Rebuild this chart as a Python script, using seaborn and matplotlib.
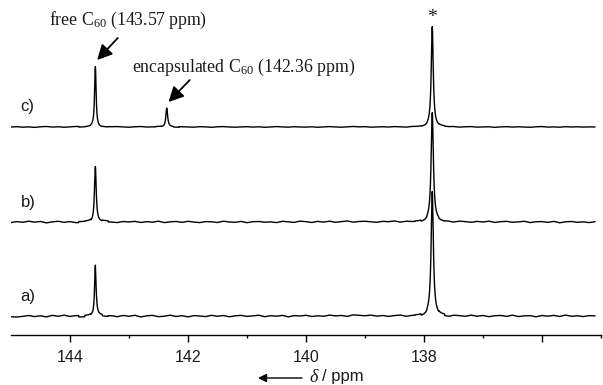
import numpy as np
import pandas as pd
import matplotlib
matplotlib.use("Agg")
import matplotlib.pyplot as plt
import seaborn as sns

# --- peak tables (ppm, height, full width at half height in ppm) ---
spectra = ["a)", "b)", "c)"]
peak_ppm = {
    "a)": [143.57, 137.86],
    "b)": [143.57, 137.86],
    "c)": [143.57, 142.36, 137.86],
}
peak_height = {
    "a)": [51, 124],
    "b)": [56, 109],
    "c)": [60, 19, 100],
}
peak_fwhm = {
    "a)": [0.030, 0.045],
    "b)": [0.034, 0.045],
    "c)": [0.030, 0.035, 0.040],
}

# --- baseline ripple, sampled every 0.1 ppm from 145.0 down to 135.1 ---
ripple_start, ripple_step = 145.0, 0.1
ripple = {
    "c)": [0.0, 0.3, -0.2, 0.1, -0.4, 0.2, 0.5, -0.1, 0.2, -0.3,
           0.1, 0.4, -0.2, 0.0, 0.3, -0.5, -0.2, 0.1, 0.3, 0.0,
           -0.3, 0.2, 0.4, -0.1, 0.0, 0.3, -0.2, 0.1, -0.4, 0.2,
           0.0, -0.2, 0.3, 0.1, -0.3, 0.2, 0.4, 0.0, -0.2, 0.1,
           0.3, -0.1, 0.2, -0.3, 0.0, 0.4, 0.1, -0.2, 0.3, 0.0,
           -0.1, 0.2, -0.3, 0.1, 0.4, 0.0, -0.2, 0.2, 0.5, 0.1,
           0.3, -0.2, 0.0, 0.2, -0.1, 0.3, 0.0, -0.3, 0.2, 0.1,
           -0.2, 0.3, 0.0, 0.4, -0.1, 0.2, -0.3, 0.1, 0.3, -0.2,
           0.0, 0.2, -0.4, 0.1, 0.3, -0.1, 0.2, 0.0, -0.3, 0.2,
           0.4, -0.1, 0.1, -0.2, 0.3, 0.0, 0.2, -0.1, 0.1, 0.0],
    "b)": [-0.6, 0.4, -0.3, 0.8, -0.2, 0.5, -0.9, 0.1, 0.7, -0.4,
           0.3, -0.8, 0.2, 0.6, -0.5, 0.1, 0.9, -0.3, -0.7, 0.4,
           0.0, 0.6, -0.5, 0.3, -0.2, 0.8, -0.6, 0.2, 0.5, -0.4,
           0.7, -0.1, -0.6, 0.4, 0.2, -0.5, 0.8, 0.0, -0.3, 0.6,
           -0.7, 0.3, 0.5, -0.2, 0.1, -0.6, 0.7, 0.2, -0.4, 0.9,
           0.3, -0.5, 0.6, -0.1, 0.8, -0.3, 0.4, 1.0, -0.2, 0.5,
           0.7, 0.1, -0.4, 0.6, 0.2, 0.9, -0.3, 0.5, 0.0, 0.4,
           -0.6, 0.3, 0.7, -0.2, 0.1, -0.5, 0.6, 0.2, -0.4, 0.5,
           -0.1, 0.8, -0.5, 0.3, 0.6, -0.3, 0.1, 0.7, -0.6, 0.2,
           0.4, -0.4, 0.6, -0.8, 0.2, 0.5, -0.3, 0.1, -0.6, 0.3],
    "a)": [-0.8, -1.0, -0.4, 0.5, -0.6, 0.2, -0.9, 0.6, -0.3, 0.8,
           -0.5, 0.3, -1.1, 0.4, -0.2, 0.9, -0.6, 0.1, -0.8, 0.5,
           -0.3, 0.7, -1.0, 0.2, 0.6, -0.7, -0.2, 0.8, -0.5, 0.3,
           -0.9, 0.4, 0.0, -0.6, 0.7, -0.3, 0.5, -0.8, 0.2, 0.6,
           -0.4, 0.1, 0.8, -0.7, 0.3, -0.2, 0.6, -0.9, 0.4, 0.0,
           0.7, -0.5, 0.2, -0.3, 0.9, 0.1, 0.5, -0.4, 1.1, 0.6,
           0.2, 0.8, -0.2, 0.4, -0.5, 0.3, 0.7, -0.6, 0.1, 0.5,
           -0.8, 0.4, -0.2, 0.6, -0.9, 0.3, 0.1, -0.5, 0.7, -0.3,
           0.4, -0.7, 0.2, 0.5, -0.4, 0.8, -0.6, 0.1, 0.3, -0.8,
           0.5, -0.2, 0.6, -0.5, 0.9, -0.3, 0.2, -0.6, 0.4, 0.1],
}

major_ticks = [144, 142, 140, 138, 136]
major_labels = ["144", "142", "140", "138", ""]
minor_ticks = [143, 141, 139, 137, 135]

# vertical stacking of the traces
offsets = {"a)": 19, "b)": 113, "c)": 208}


def lorentzian(x, x0, h, w):
    return h / (1.0 + ((x - x0) / (w / 2.0)) ** 2)


rows = []
for name in spectra:
    rip = np.asarray(ripple[name], dtype=float)
    grid = ripple_start - ripple_step * np.arange(len(rip))
    extra = [p + np.arange(-0.3, 0.3001, 0.004) for p in peak_ppm[name]]
    ppm = np.unique(np.concatenate([grid] + extra))
    idx = np.clip(np.rint((ripple_start - ppm) / ripple_step).astype(int), 0, len(rip) - 1)
    sig = rip[idx].copy()
    for p, h, w in zip(peak_ppm[name], peak_height[name], peak_fwhm[name]):
        sig += lorentzian(ppm, p, h, w)
    rows.append(pd.DataFrame({"ppm": ppm, "signal": sig + offsets[name], "spectrum": name}))
df = pd.concat(rows, ignore_index=True)

sns.set_theme(style="white")
plt.rcParams["font.family"] = ["Liberation Sans", "DejaVu Sans"]
plt.rcParams["mathtext.fontset"] = "custom"
plt.rcParams["mathtext.rm"] = "Liberation Serif"
plt.rcParams["mathtext.it"] = "Liberation Serif:italic"

fig = plt.figure(figsize=(6.03, 3.85), dpi=100)
ax = fig.add_axes([11 / 603, 50 / 385, 590 / 603, 335 / 385])

sns.lineplot(data=df, x="ppm", y="signal", hue="spectrum", palette=["black"] * 3,
             estimator=None, sort=True, legend=False, linewidth=1.0, ax=ax)

ax.set_xlim(145.0, 135.0)
ax.set_ylim(0, 335)
for s in ("left", "right", "top"):
    ax.spines[s].set_visible(False)
ax.spines["bottom"].set_color("black")
ax.spines["bottom"].set_linewidth(1.0)
ax.set_yticks([])
ax.set_xticks(major_ticks)
ax.set_xticklabels(major_labels)
ax.set_xticks(minor_ticks, minor=True)
ax.tick_params(axis="x", which="major", direction="out", length=5, width=1.0,
               color="black", labelsize=11.5, pad=6, labelcolor="#1a1a1a", bottom=True)
ax.tick_params(axis="x", which="minor", direction="out", length=2.5, width=1.0,
               color="black", bottom=True)
ax.set_xlabel("")
ax.set_ylabel("")

# trace labels
for name in spectra:
    ax.text(144.84, offsets[name] + 20, name, fontsize=12, ha="left", va="center",
            color="#1a1a1a")

serif = dict(family=["Liberation Serif", "DejaVu Serif"], fontsize=12.8, color="#1a1a1a")
arrow = dict(arrowstyle="-|>,head_length=0.75,head_width=0.38", color="black", lw=1.3,
             shrinkA=0, shrinkB=0)

ax.annotate("free C$_{60}$ (143.57 ppm)", xy=(143.54, 275), xytext=(143.01, 315),
            ha="center", va="center", **serif)
ax.annotate("", xy=(143.54, 275), xytext=(143.19, 297), arrowprops=arrow)

ax.annotate("encapsulated C$_{60}$ (142.36 ppm)", xy=(142.33, 233), xytext=(141.06, 268),
            ha="center", va="center", **serif)
ax.annotate("", xy=(142.33, 233), xytext=(141.97, 255), arrowprops=arrow)

ax.text(137.87, 318, "*", ha="center", va="center",
        family=["Liberation Serif", "DejaVu Serif"], fontsize=14, color="#1a1a1a")

# axis label with leftward arrow
fig.text(309 / 603, 1 - 377 / 385, r"$\mathit{\delta}$", fontsize=13, ha="left",
         va="center", color="#1a1a1a")
fig.text(322 / 603, 1 - 377 / 385, "/ ppm", fontsize=12, ha="left", va="center",
         color="#1a1a1a")
fig.add_artist(matplotlib.patches.FancyArrowPatch(
    (302 / 603, 1 - 378 / 385), (258 / 603, 1 - 378 / 385), transform=fig.transFigure,
    arrowstyle="-|>,head_length=5,head_width=2.5", color="black", lw=1.0,
    shrinkA=0, shrinkB=0))

fig.savefig("out.png", dpi=100, facecolor="white")
